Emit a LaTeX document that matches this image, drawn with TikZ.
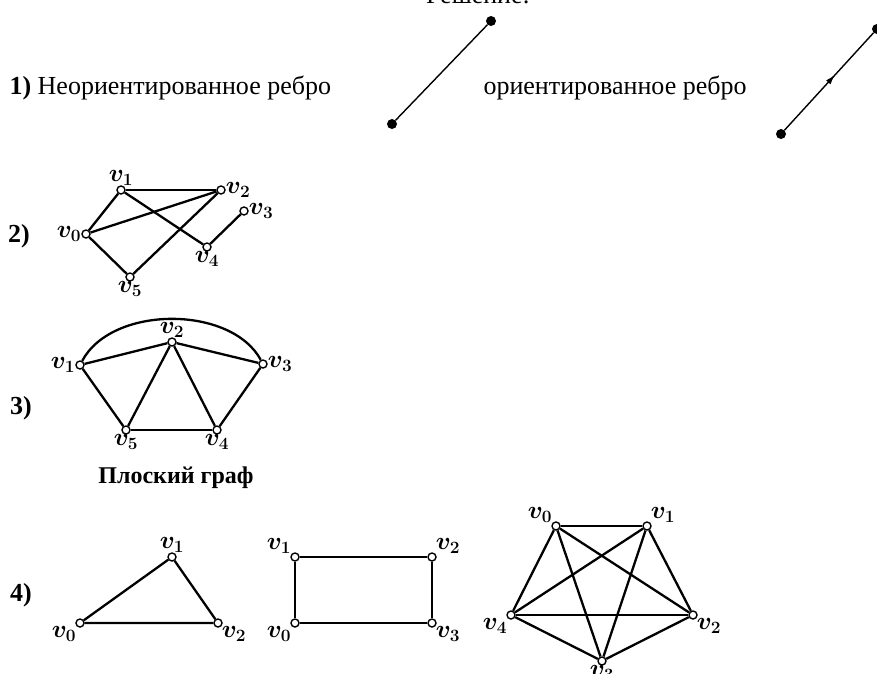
\documentclass[tikz,border=0pt]{standalone}
\usepackage{amsmath,amssymb}
\usepackage{fontspec}
\setmainfont{Liberation Serif}
\usetikzlibrary{arrows.meta, decorations.markings, positioning}

\tikzset{
  vtx/.style={circle, draw, fill=white, line width=1.4pt, inner sep=0pt, minimum size=8pt},
  dot/.style={circle, fill, inner sep=0pt, minimum size=10pt},
  edge/.style={line width=2.3pt},
  vlab/.style={font=\fontsize{24}{24}\selectfont, inner sep=1pt},
  num/.style={font=\fontsize{26}{26}\selectfont\bfseries}
}
\newcommand{\vv}[1]{$\boldsymbol{v_{#1}}$}

\begin{document}
\begin{tikzpicture}[x=1pt, y=-1pt, label distance=-1pt]
\clip (0,0) rectangle (877,673);
\fill[white] (0,0) rectangle (877,673);

% top (cut off)
\node[font=\fontsize{26}{26}\selectfont, anchor=base] (title) at (478,3) {Решение:};

% 1)
\node[font=\fontsize{26}{26}\selectfont, anchor=base west] (t1) at (6,94) {\textbf{1)} Неориентированное ребро};
\node[font=\fontsize{26}{26}\selectfont, anchor=base west] (t2) at (480,94) {ориентированное ребро};
\node[dot] (p1) at (392,124) {};
\node[dot] (p2) at (491,21) {};
\node[dot] (q1) at (781,134) {};
\node[dot] (q2) at (877,29) {};
\draw[line width=1.4pt] (p1) -- (p2);
\draw[line width=1.4pt, postaction={decorate}, decoration={markings,
  mark=at position 0.57 with {\arrow{Latex[length=10pt,width=6pt]}}}] (q1) -- (q2);

% 2)
\node[num] (n2) at (19,236) {2)};
\node[vtx, label={[vlab]left:\vv{0}}] (a0) at (86,234) {};
\node[vtx, label={[vlab]above:\vv{1}}] (a1) at (121,190) {};
\node[vtx, label={[vlab]right:\vv{2}}] (a2) at (221,190) {};
\node[vtx, label={[vlab]right:\vv{3}}] (a3) at (244,211) {};
\node[vtx, label={[vlab]below:\vv{4}}] (a4) at (207,247) {};
\node[vtx, label={[vlab]below:\vv{5}}] (a5) at (130,277) {};
\draw[edge] (a0) -- (a1);
\draw[edge] (a0) -- (a2);
\draw[edge] (a0) -- (a5);
\draw[edge] (a1) -- (a2);
\draw[edge] (a1) -- (a4);
\draw[edge] (a2) -- (a5);
\draw[edge] (a4) -- (a3);

% 3)
\node[num] (n3) at (21,408) {3)};
\node[vtx, label={[vlab]left:\vv{1}}] (b1) at (80,365) {};
\node[vtx, label={[vlab]above:\vv{2}}] (b2) at (172,342) {};
\node[vtx, label={[vlab]right:\vv{3}}] (b3) at (263,364) {};
\node[vtx, label={[vlab]below:\vv{5}}] (b5) at (126,430) {};
\node[vtx, label={[vlab]below:\vv{4}}] (b4) at (217,430) {};
\draw[edge] (b1) -- (b2);
\draw[edge] (b2) -- (b3);
\draw[edge] (b1) -- (b5);
\draw[edge] (b2) -- (b5);
\draw[edge] (b2) -- (b4);
\draw[edge] (b3) -- (b4);
\draw[edge] (b5) -- (b4);
\draw[edge] (b1) .. controls (112,305) and (231,305) .. (b3);
\node[font=\fontsize{24}{24}\selectfont\bfseries] (plane) at (176,478) {Плоский граф};

% 4)
\node[num] (n4) at (21,595) {4)};
\node[vtx, label={[vlab]below left:\vv{0}}] (c0) at (80,623) {};
\node[vtx, label={[vlab]above:\vv{1}}] (c1) at (172,557) {};
\node[vtx, label={[vlab]below right:\vv{2}}] (c2) at (218,623) {};
\draw[edge] (c0) -- (c1) -- (c2) -- (c0);

\node[vtx, label={[vlab]above left:\vv{1}}] (d1) at (295,557) {};
\node[vtx, label={[vlab]above right:\vv{2}}] (d2) at (432,557) {};
\node[vtx, label={[vlab]below left:\vv{0}}] (d0) at (295,623) {};
\node[vtx, label={[vlab]below right:\vv{3}}] (d3) at (432,623) {};
\draw[edge] (d0) -- (d1) -- (d2) -- (d3) -- (d0);

\node[vtx, label={[vlab]above left:\vv{0}}] (e0) at (556,526) {};
\node[vtx, label={[vlab]above right:\vv{1}}] (e1) at (647,526) {};
\node[vtx, label={[vlab]below right:\vv{2}}] (e2) at (693,615) {};
\node[vtx, label={[vlab]below:\vv{3}}] (e3) at (602,661) {};
\node[vtx, label={[vlab]below left:\vv{4}}] (e4) at (511,615) {};
\foreach \i/\j in {0/1,0/2,0/3,0/4,1/2,1/3,1/4,2/3,2/4,3/4}
  \draw[edge] (e\i) -- (e\j);
\end{tikzpicture}
\end{document}
